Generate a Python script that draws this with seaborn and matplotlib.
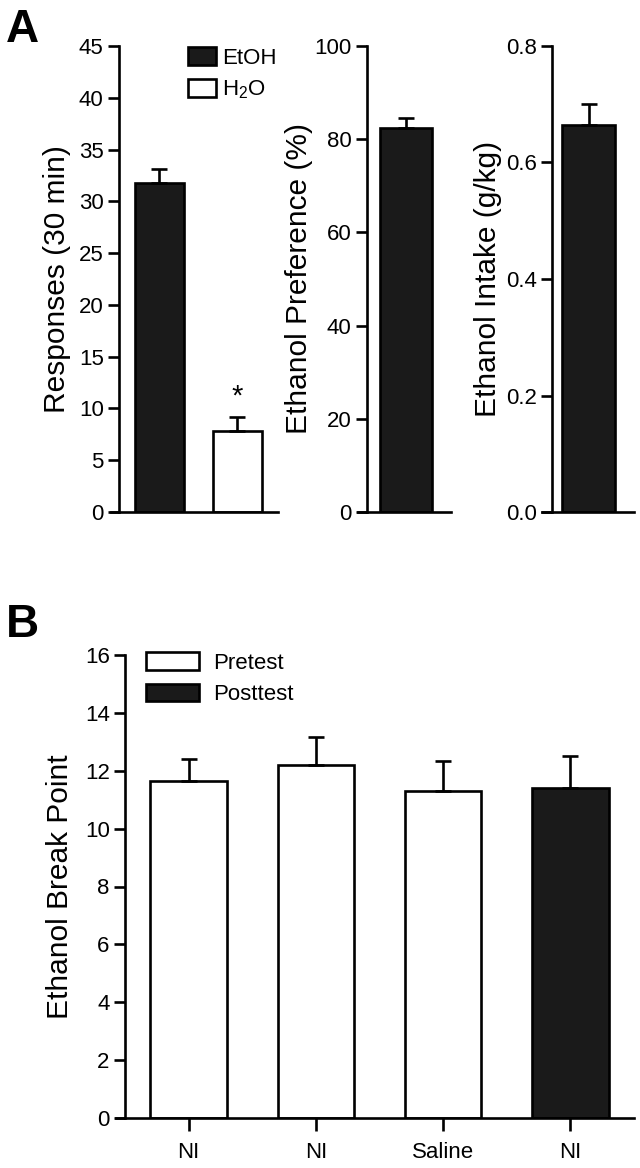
import numpy as np
import pandas as pd
import seaborn as sns
import matplotlib
matplotlib.use("Agg")
from matplotlib import pyplot as plt
from matplotlib.patches import Patch

sns.set_style("ticks")
plt.rcParams['font.family'] = ['Liberation Sans', 'DejaVu Sans']
plt.rcParams['mathtext.fontset'] = 'custom'
plt.rcParams['mathtext.rm'] = 'Liberation Sans'
for k in ['text.color', 'axes.labelcolor', 'xtick.color', 'ytick.color']:
    plt.rcParams[k] = 'black'

# panel A data
resp_groups = ["EtOH", "H2O"]
resp_mean = [31.8, 7.8]
resp_sem = [1.3, 1.4]
pref_mean = [82.3]
pref_sem = [2.2]
intake_mean = [0.664]
intake_sem = [0.036]

# panel B data
b_ids = ["b1", "b2", "b3", "b4"]
b_labels = ["NI", "NI", "Saline", "NI"]
b_phase = ["Pretest", "Pretest", "Pretest", "Posttest"]
b_mean = [11.65, 12.2, 11.3, 11.4]
b_sem = [0.75, 0.95, 1.05, 1.1]

W, H = 640, 1168
fig = plt.figure(figsize=(6.4, 11.68), dpi=100)

LW = 1.9
TICK_FS = 16
LAB_FS = 21.5
DARK = "#1a1a1a"


def px_axes(x0, x1, ytop, ybot):
    return fig.add_axes([x0 / W, (H - ybot) / H, (x1 - x0) / W, (ybot - ytop) / H])


def style(ax, spine_px, width_px):
    sns.despine(ax=ax)
    for s in ["left", "bottom"]:
        ax.spines[s].set_linewidth(LW)
        ax.spines[s].set_color("black")
    ax.spines["left"].set_position(("axes", spine_px / width_px))
    ax.tick_params(axis="y", length=8, width=LW, labelsize=TICK_FS, pad=3, color="black")
    ax.tick_params(axis="x", length=0, labelsize=TICK_FS)
    ax.set_xlabel("")


def bars(ax, df, x, y, hue, colors, err, width):
    sns.barplot(data=df, x=x, y=y, hue=hue, palette=colors, dodge=False,
                edgecolor="black", linewidth=LW, width=width, errorbar=None,
                legend=False, ax=ax)
    pos = np.arange(len(df))
    ax.errorbar(pos, df[y], yerr=[np.zeros(len(df)), err], fmt="none",
                ecolor="black", elinewidth=LW, capsize=6, capthick=LW, zorder=1)


def legend(ax, items, x0, y0, hl, hh, spacing, tpad):
    handles = [Patch(facecolor=c, edgecolor="black", linewidth=LW, label=l) for l, c in items]
    ax.legend(handles=handles, loc="upper left", bbox_to_anchor=(x0 / W, 1 - y0 / H),
              bbox_transform=fig.transFigure, frameon=False, fontsize=TICK_FS,
              handlelength=hl, handleheight=hh, handletextpad=tpad, labelspacing=spacing,
              borderaxespad=0, borderpad=0)


# ---- A1: responses
ax1 = px_axes(111, 278, 46, 512)
df1 = pd.DataFrame({"group": resp_groups, "val": resp_mean})
bars(ax1, df1, "group", "val", "group", {"EtOH": DARK, "H2O": "white"}, resp_sem, 0.63)
ax1.set_xlim(-0.62, 1.52)
ax1.set_ylim(0, 45)
ax1.set_yticks(range(0, 46, 5))
ax1.set_xticks([])
style(ax1, 8, 167)
ax1.set_ylabel("Responses (30 min)", fontsize=LAB_FS, labelpad=6)
ax1.text(1, resp_mean[1] + resp_sem[1] + 0.6, "*", ha="center", va="bottom", fontsize=21)
legend(ax1, [("EtOH", DARK), (r"H$_\mathregular{2}$O", "white")], 188, 47, 1.25, 0.9, 0.45, 0.3)

# ---- A2: preference
ax2 = px_axes(358, 451, 46, 512)
df2 = pd.DataFrame({"group": ["EtOH"], "val": pref_mean})
bars(ax2, df2, "group", "val", "group", {"EtOH": DARK}, pref_sem, 0.63)
ax2.set_xlim(-0.58, 0.55)
ax2.set_ylim(0, 100)
ax2.set_yticks(range(0, 101, 20))
ax2.set_xticks([])
style(ax2, 9, 93)
ax2.set_ylabel("Ethanol Preference (%)", fontsize=LAB_FS, labelpad=1)

# ---- A3: intake
ax3 = px_axes(542, 634, 46, 512)
df3 = pd.DataFrame({"group": ["EtOH"], "val": intake_mean})
bars(ax3, df3, "group", "val", "group", {"EtOH": DARK}, intake_sem, 0.63)
ax3.set_xlim(-0.56, 0.54)
ax3.set_ylim(0, 0.8)
ax3.set_yticks(np.arange(0, 0.81, 0.2))
ax3.set_yticklabels([f"{v:.1f}" for v in np.arange(0, 0.81, 0.2)])
ax3.set_xticks([])
style(ax3, 10, 92)
ax3.set_ylabel("Ethanol Intake (g/kg)", fontsize=LAB_FS, labelpad=3)

fig.text(6 / W, 1 - 42 / H, "A", fontsize=33, fontweight="bold", va="baseline")

# ---- B: break point
axb = px_axes(116, 634, 655, 1118)
dfb = pd.DataFrame({"id": b_ids, "val": b_mean, "phase": b_phase})
bars(axb, dfb, "id", "val", "phase", {"Pretest": "white", "Posttest": DARK}, b_sem, 0.6)
axb.set_xlim(-0.57, 3.5)
axb.set_ylim(0, 16)
axb.set_yticks(range(0, 17, 2))
style(axb, 9, 518)
axb.set_xticks(range(len(b_labels)))
axb.set_xticklabels(b_labels)
axb.tick_params(axis="x", length=9, width=LW, labelsize=TICK_FS, pad=8, color="black")
axb.set_xlabel("")
axb.set_ylabel("Ethanol Break Point", fontsize=LAB_FS, labelpad=8)
legend(axb, [("Pretest", "white"), ("Posttest", DARK)], 146, 652, 2.4, 0.85, 0.45, 0.6)

fig.text(6 / W, 1 - 637 / H, "B", fontsize=33, fontweight="bold", va="baseline")

fig.savefig("out.png", dpi=100)
